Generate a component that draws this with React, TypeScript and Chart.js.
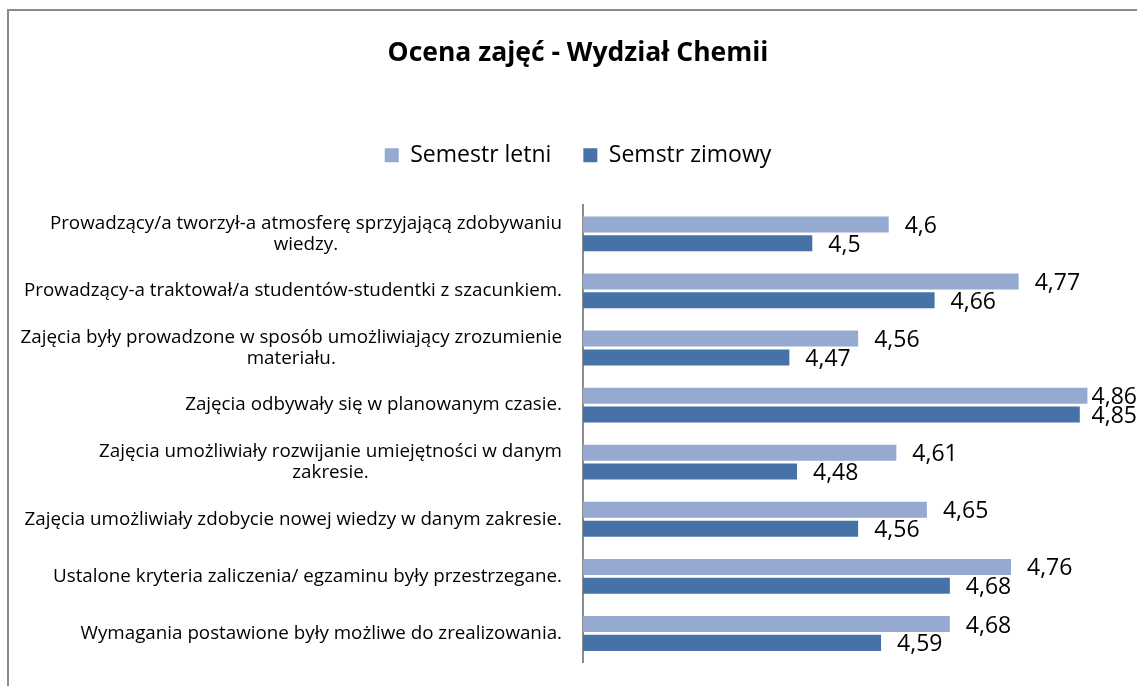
import { useEffect, useRef } from 'react';
import { Chart, registerables } from 'chart.js';

Chart.register(...registerables);

const chartTitle = 'Ocena zajęć - Wydział Chemii';

const categories: string[][] = [
  ['Prowadzący/a tworzył-a atmosferę sprzyjającą zdobywaniu', 'wiedzy.'],
  ['Prowadzący-a traktował/a studentów-studentki z szacunkiem.'],
  ['Zajęcia były prowadzone w sposób umożliwiający zrozumienie', 'materiału.'],
  ['Zajęcia odbywały się w planowanym czasie.'],
  ['Zajęcia umożliwiały rozwijanie umiejętności w danym', 'zakresie.'],
  ['Zajęcia umożliwiały zdobycie nowej wiedzy w danym zakresie.'],
  ['Ustalone kryteria zaliczenia/ egzaminu były przestrzegane.'],
  ['Wymagania postawione były możliwe do zrealizowania.'],
];

const seriesNames = ['Semestr letni', 'Semstr zimowy'];
const semestrLetni = [4.6, 4.77, 4.56, 4.86, 4.61, 4.65, 4.76, 4.68];
const semestrZimowy = [4.5, 4.66, 4.47, 4.85, 4.48, 4.56, 4.68, 4.59];

const axisMin = 4.2;
const axisMax = 4.9;

const FONT = '"Open Sans", Lato, sans-serif';
const LIGHT = '#95a9d1';
const DARK = '#4672a8';

const fmt = (v: number) => String(v).replace('.', ',');

const categoryLabelPlugin = {
  id: 'categoryLabels',
  afterDraw(chart: any) {
    const y = chart.scales.y;
    const ctx = chart.ctx;
    ctx.save();
    ctx.font = `18.8px ${FONT}`;
    ctx.fillStyle = '#000';
    ctx.textAlign = 'center';
    ctx.textBaseline = 'middle';
    const right = y.right - 21;
    const lh = 21;
    categories.forEach((lines, i) => {
      const cy = y.getPixelForTick(i);
      const w = Math.max(...lines.map((l) => ctx.measureText(l).width));
      const cx = right - w / 2;
      const y0 = cy - ((lines.length - 1) * lh) / 2;
      lines.forEach((l, j) => ctx.fillText(l, cx, y0 + j * lh));
    });
    ctx.restore();
  },
};

const valueLabelPlugin = {
  id: 'valueLabels',
  afterDatasetsDraw(chart: any) {
    const ctx = chart.ctx;
    ctx.save();
    ctx.font = `23px ${FONT}`;
    ctx.fillStyle = '#000';
    ctx.textAlign = 'left';
    ctx.textBaseline = 'middle';
    chart.data.datasets.forEach((ds: any, di: number) => {
      const meta = chart.getDatasetMeta(di);
      meta.data.forEach((bar: any, i: number) => {
        const t = fmt(ds.data[i]);
        const w = ctx.measureText(t).width;
        let x = bar.x + 16;
        const maxX = chart.width - 10 - w;
        if (x > maxX) x = maxX;
        ctx.fillText(t, x, bar.y + 2);
      });
    });
    ctx.restore();
  },
};

const legendSpacer = {
  id: 'legendSpacer',
  beforeLayout(chart: any) {
    const lg = chart.legend;
    if (lg && !lg._patched) {
      const f = lg.fit;
      lg.fit = function () {
        f.call(this);
        this.height += 28.5;
      };
      lg._patched = true;
    }
  },
};

export default function App() {
  const ref = useRef<HTMLCanvasElement | null>(null);

  useEffect(() => {
    if (!ref.current) return;
    const chart = new Chart(ref.current, {
      type: 'bar',
      data: {
        labels: categories.map((l) => l.join(' ')),
        datasets: [
          {
            label: seriesNames[0],
            data: semestrLetni,
            backgroundColor: LIGHT,
            borderWidth: 0,
            categoryPercentage: 0.66,
            barPercentage: 0.85,
          },
          {
            label: seriesNames[1],
            data: semestrZimowy,
            backgroundColor: DARK,
            borderWidth: 0,
            categoryPercentage: 0.66,
            barPercentage: 0.85,
          },
        ],
      },
      options: {
        indexAxis: 'y',
        responsive: false,
        animation: false,
        events: [],
        layout: { padding: { left: 0, right: 0, top: 0, bottom: 29 } },
        scales: {
          x: { display: false, min: axisMin, max: axisMax },
          y: {
            display: true,
            grid: { display: false },
            border: { display: true, color: '#8c8c8c', width: 2 },
            ticks: { display: false },
            afterFit(scale: any) {
              scale.width = 574;
            },
          },
          yRight: {
            type: 'category',
            position: 'right',
            display: true,
            grid: { display: false },
            border: { display: false },
            ticks: { display: false },
            afterFit(scale: any) {
              scale.width = 29;
            },
          },
        },
        plugins: {
          title: {
            display: true,
            text: chartTitle,
            color: '#000',
            font: { family: FONT, size: 26.5, weight: 'bold' },
            padding: { top: 27, bottom: 42 },
          },
          legend: {
            display: true,
            position: 'top',
            labels: {
              boxWidth: 14,
              boxHeight: 14,
              padding: 32,
              color: '#000',
              font: { family: FONT, size: 23 },
            },
          },
          tooltip: { enabled: false },
        },
      },
      plugins: [categoryLabelPlugin, valueLabelPlugin, legendSpacer],
    } as any);
    return () => chart.destroy();
  }, []);

  return (
    <div style={{ position: 'absolute', left: 7, top: 9, width: 1130, height: 677, overflow: 'hidden' }}>
      <div
        style={{
          width: 1140,
          height: 690,
          borderLeft: '2px solid #8a8a8a',
          borderTop: '2px solid #8a8a8a',
          background: '#fff',
        }}
      >
        <canvas ref={ref} width={1138} height={680} style={{ display: 'block' }} />
      </div>
    </div>
  );
}
